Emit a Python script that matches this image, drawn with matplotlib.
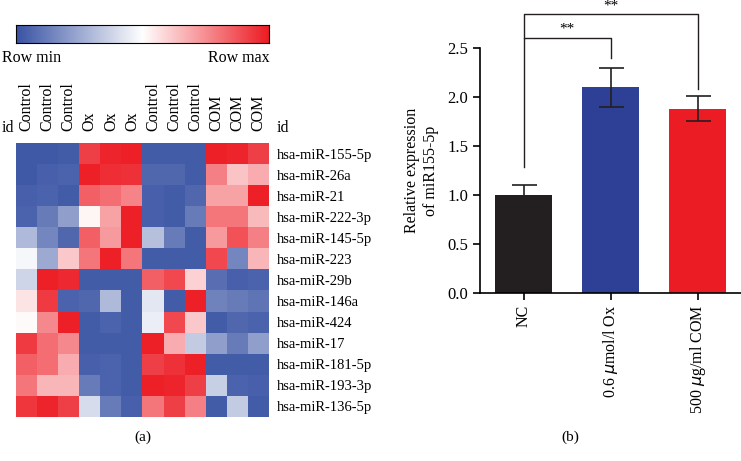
import numpy as np
import matplotlib.pyplot as plt
from matplotlib.colors import LinearSegmentedColormap

plt.rcParams['font.family'] = ['Liberation Serif', 'DejaVu Serif']

samples = ['Control', 'Control', 'Control', 'Ox', 'Ox', 'Ox',
           'Control', 'Control', 'Control', 'COM', 'COM', 'COM']
mirnas = ['hsa-miR-155-5p', 'hsa-miR-26a', 'hsa-miR-21', 'hsa-miR-222-3p',
          'hsa-miR-145-5p', 'hsa-miR-223', 'hsa-miR-29b', 'hsa-miR-146a',
          'hsa-miR-424', 'hsa-miR-17', 'hsa-miR-181-5p', 'hsa-miR-193-3p',
          'hsa-miR-136-5p']

# row-scaled values, 0 = row min, 1 = row max
heat = [
    [0.02, 0.02, 0.03, 0.92, 0.98, 0.99, 0.03, 0.03, 0.03, 0.99, 0.98, 0.92],
    [0.02, 0.04, 0.05, 0.99, 0.96, 0.95, 0.06, 0.06, 0.03, 0.78, 0.63, 0.68],
    [0.04, 0.05, 0.03, 0.85, 0.82, 0.77, 0.04, 0.03, 0.06, 0.70, 0.70, 0.99],
    [0.05, 0.12, 0.22, 0.52, 0.70, 0.99, 0.04, 0.03, 0.12, 0.80, 0.80, 0.65],
    [0.30, 0.15, 0.06, 0.85, 0.72, 0.99, 0.32, 0.12, 0.03, 0.72, 0.88, 0.78],
    [0.48, 0.25, 0.62, 0.80, 0.99, 0.80, 0.03, 0.03, 0.03, 0.90, 0.15, 0.66],
    [0.38, 0.99, 0.97, 0.03, 0.03, 0.03, 0.85, 0.90, 0.60, 0.08, 0.04, 0.05],
    [0.56, 0.93, 0.05, 0.06, 0.30, 0.03, 0.43, 0.03, 0.99, 0.14, 0.12, 0.10],
    [0.51, 0.76, 0.99, 0.03, 0.05, 0.03, 0.45, 0.90, 0.62, 0.03, 0.06, 0.05],
    [0.93, 0.82, 0.76, 0.03, 0.03, 0.03, 0.99, 0.68, 0.35, 0.22, 0.12, 0.22],
    [0.85, 0.82, 0.68, 0.04, 0.05, 0.03, 0.92, 0.95, 0.99, 0.03, 0.03, 0.03],
    [0.80, 0.66, 0.66, 0.12, 0.05, 0.03, 0.99, 0.98, 0.92, 0.36, 0.05, 0.04],
    [0.94, 0.98, 0.92, 0.40, 0.12, 0.04, 0.80, 0.92, 0.78, 0.03, 0.35, 0.03],
]

groups = ['NC', '0.6 $\\mu$mol/l Ox', '500 $\\mu$g/ml COM']
means = [1.0, 2.1, 1.88]
errs = [0.1, 0.2, 0.13]
bar_colors = ['#231f20', '#2e3f96', '#ec1c24']

cmap = LinearSegmentedColormap.from_list('rowmm', ['#3953a4', '#ffffff', '#ed1c24'])

W, H = 741, 461
fig = plt.figure(figsize=(W / 100, H / 100), dpi=100)

def px_axes(x0, y0, x1, y1):
    return fig.add_axes([x0 / W, 1 - y1 / H, (x1 - x0) / W, (y1 - y0) / H])

# --- colour key
cax = px_axes(16, 25, 269, 43)
cax.imshow(np.linspace(0, 1, 256)[None, :], aspect='auto', cmap=cmap)
cax.set_xticks([])
cax.set_yticks([])
for s in cax.spines.values():
    s.set_linewidth(0.8)
fig.text(2 / W, 1 - 58 / H, 'Row min', ha='left', va='center', fontsize=11.5)
fig.text(270 / W, 1 - 58 / H, 'Row max', ha='right', va='center', fontsize=11.5)

# --- heatmap
hax = px_axes(16, 143, 269, 417)
hax.imshow(np.array(heat), aspect='auto', cmap=cmap, vmin=0, vmax=1,
           interpolation='nearest')
hax.set_xticks(range(len(samples)))
hax.set_xticklabels(samples, rotation=90, fontsize=11.5)
hax.xaxis.tick_top()
hax.set_yticks(range(len(mirnas)))
hax.set_yticklabels(mirnas, fontsize=10.5)
hax.yaxis.tick_right()
hax.tick_params(axis='x', length=0, pad=9)
hax.tick_params(axis='y', length=0, pad=6)
for s in hax.spines.values():
    s.set_visible(False)
fig.text(2 / W, 1 - 128 / H, 'id', ha='left', va='center', fontsize=11.5)
fig.text(277 / W, 1 - 128 / H, 'id', ha='left', va='center', fontsize=11.5)
fig.text(143 / W, 1 - 437 / H, '(a)', ha='center', va='center', fontsize=11)

# --- bar chart
bax = px_axes(480, 48, 741, 293)
x = np.arange(len(groups))
bax.bar(x, means, width=0.66, color=bar_colors)
bax.errorbar(x, means, yerr=errs, fmt='none', ecolor='#231f20',
             elinewidth=1.2, capsize=9, capthick=1.2)
bax.set_xlim(-0.5, 2.5)
bax.set_ylim(0, 2.5)
bax.set_yticks([0, 0.5, 1.0, 1.5, 2.0, 2.5])
bax.set_yticklabels(['0.0', '0.5', '1.0', '1.5', '2.0', '2.5'], fontsize=12)
bax.set_xticks(x)
bax.set_xticklabels(groups, rotation=90, fontsize=11.5)
bax.spines['top'].set_visible(False)
bax.spines['right'].set_visible(False)
for s in ['left', 'bottom']:
    bax.spines[s].set_linewidth(1.2)
bax.tick_params(direction='out', length=5, width=1.2)
bax.set_ylabel('Relative expression\nof miR155-5p', fontsize=11.5, labelpad=6)

# significance brackets
bax.plot([0, 0, 1, 1], [1.29, 2.6, 2.6, 2.4], color='#231f20', lw=1, clip_on=False)
bax.text(0.5, 2.63, '**', ha='center', va='bottom', fontsize=11, clip_on=False)
bax.plot([0, 0, 2, 2], [2.6, 2.85, 2.85, 2.08], color='#231f20', lw=1, clip_on=False)
bax.text(1.0, 2.86, '**', ha='center', va='bottom', fontsize=11, clip_on=False)

fig.text(570 / W, 1 - 437 / H, '(b)', ha='center', va='center', fontsize=11)

fig.savefig('out.png', dpi=100)
